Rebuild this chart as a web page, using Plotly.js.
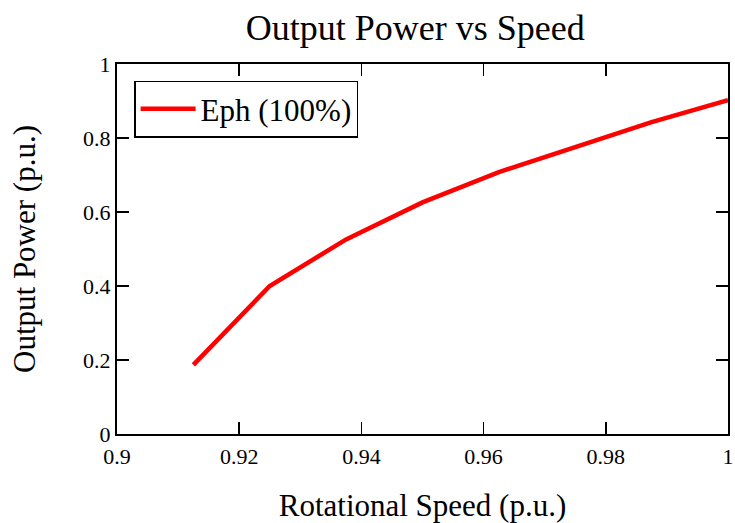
<!DOCTYPE html>
<html>
<head>
<meta charset="utf-8">
<script src="https://cdn.plot.ly/plotly-3.0.1.min.js"></script>
<style>html,body{margin:0;padding:0;background:#fff;}#chart{width:735px;height:523px;}</style>
</head>
<body>
<div id="chart"></div>
<script>
const speed = [0.9125, 0.925, 0.9375, 0.95, 0.9625, 0.975, 0.9875, 1.0];
const power = [0.187, 0.400, 0.526, 0.626, 0.708, 0.777, 0.843, 0.902];
const seriesName = 'Eph (100%)';
const xTickVals = [0.9, 0.92, 0.94, 0.96, 0.98, 1.0];
const xTickText = ['0.9', '0.92', '0.94', '0.96', '0.98', '1'];
const yTickVals = [0, 0.2, 0.4, 0.6, 0.8, 1.0];
const yTickText = ['0', '0.2', '0.4', '0.6', '0.8', '1'];

const font = 'Liberation Serif, Times New Roman, serif';

const trace = {
  x: speed, y: power, type: 'scatter', mode: 'lines', name: seriesName,
  line: {color: '#ff0000', width: 4.5}
};

const layout = {
  width: 735, height: 523,
  margin: {l: 117, r: 7, t: 64, b: 89},
  paper_bgcolor: '#fff', plot_bgcolor: '#fff',
  font: {family: font, color: '#000', size: 22},
  title: {text: 'Output Power vs Speed', font: {family: font, size: 36, color: '#000'}, x: 0.565, xanchor: 'center', y: 0.948, yanchor: 'middle'},
  showlegend: true,
  legend: {x: 0.028, y: 0.955, xanchor: 'left', yanchor: 'top', bgcolor: '#fff', bordercolor: '#000', borderwidth: 1.5,
           font: {family: font, size: 31, color: '#000'}, itemwidth: 55},
  xaxis: {
    range: [0.9, 1.0], tickvals: xTickVals, ticktext: xTickText,
    ticks: 'inside', ticklen: 12, tickwidth: 1.5, tickcolor: '#000',
    showline: true, linecolor: '#000', linewidth: 2, mirror: 'ticks',
    showgrid: false, zeroline: false,
    tickfont: {family: font, size: 22, color: '#000'}, ticklabelstandoff: 2,
    title: {text: 'Rotational Speed (p.u.)', font: {family: font, size: 31, color: '#000'}, standoff: 32}
  },
  yaxis: {
    range: [0, 1.0], tickvals: yTickVals, ticktext: yTickText,
    ticks: 'inside', ticklen: 12, tickwidth: 1.5, tickcolor: '#000',
    showline: true, linecolor: '#000', linewidth: 2, mirror: 'ticks',
    showgrid: false, zeroline: false,
    tickfont: {family: font, size: 22, color: '#000'}, ticklabelstandoff: 0,
    title: {text: 'Output Power (p.u.)', font: {family: font, size: 31, color: '#000'}, standoff: 38}
  }
};

Plotly.newPlot('chart', [trace], layout, {displayModeBar: false, staticPlot: true});
</script>
</body>
</html>
